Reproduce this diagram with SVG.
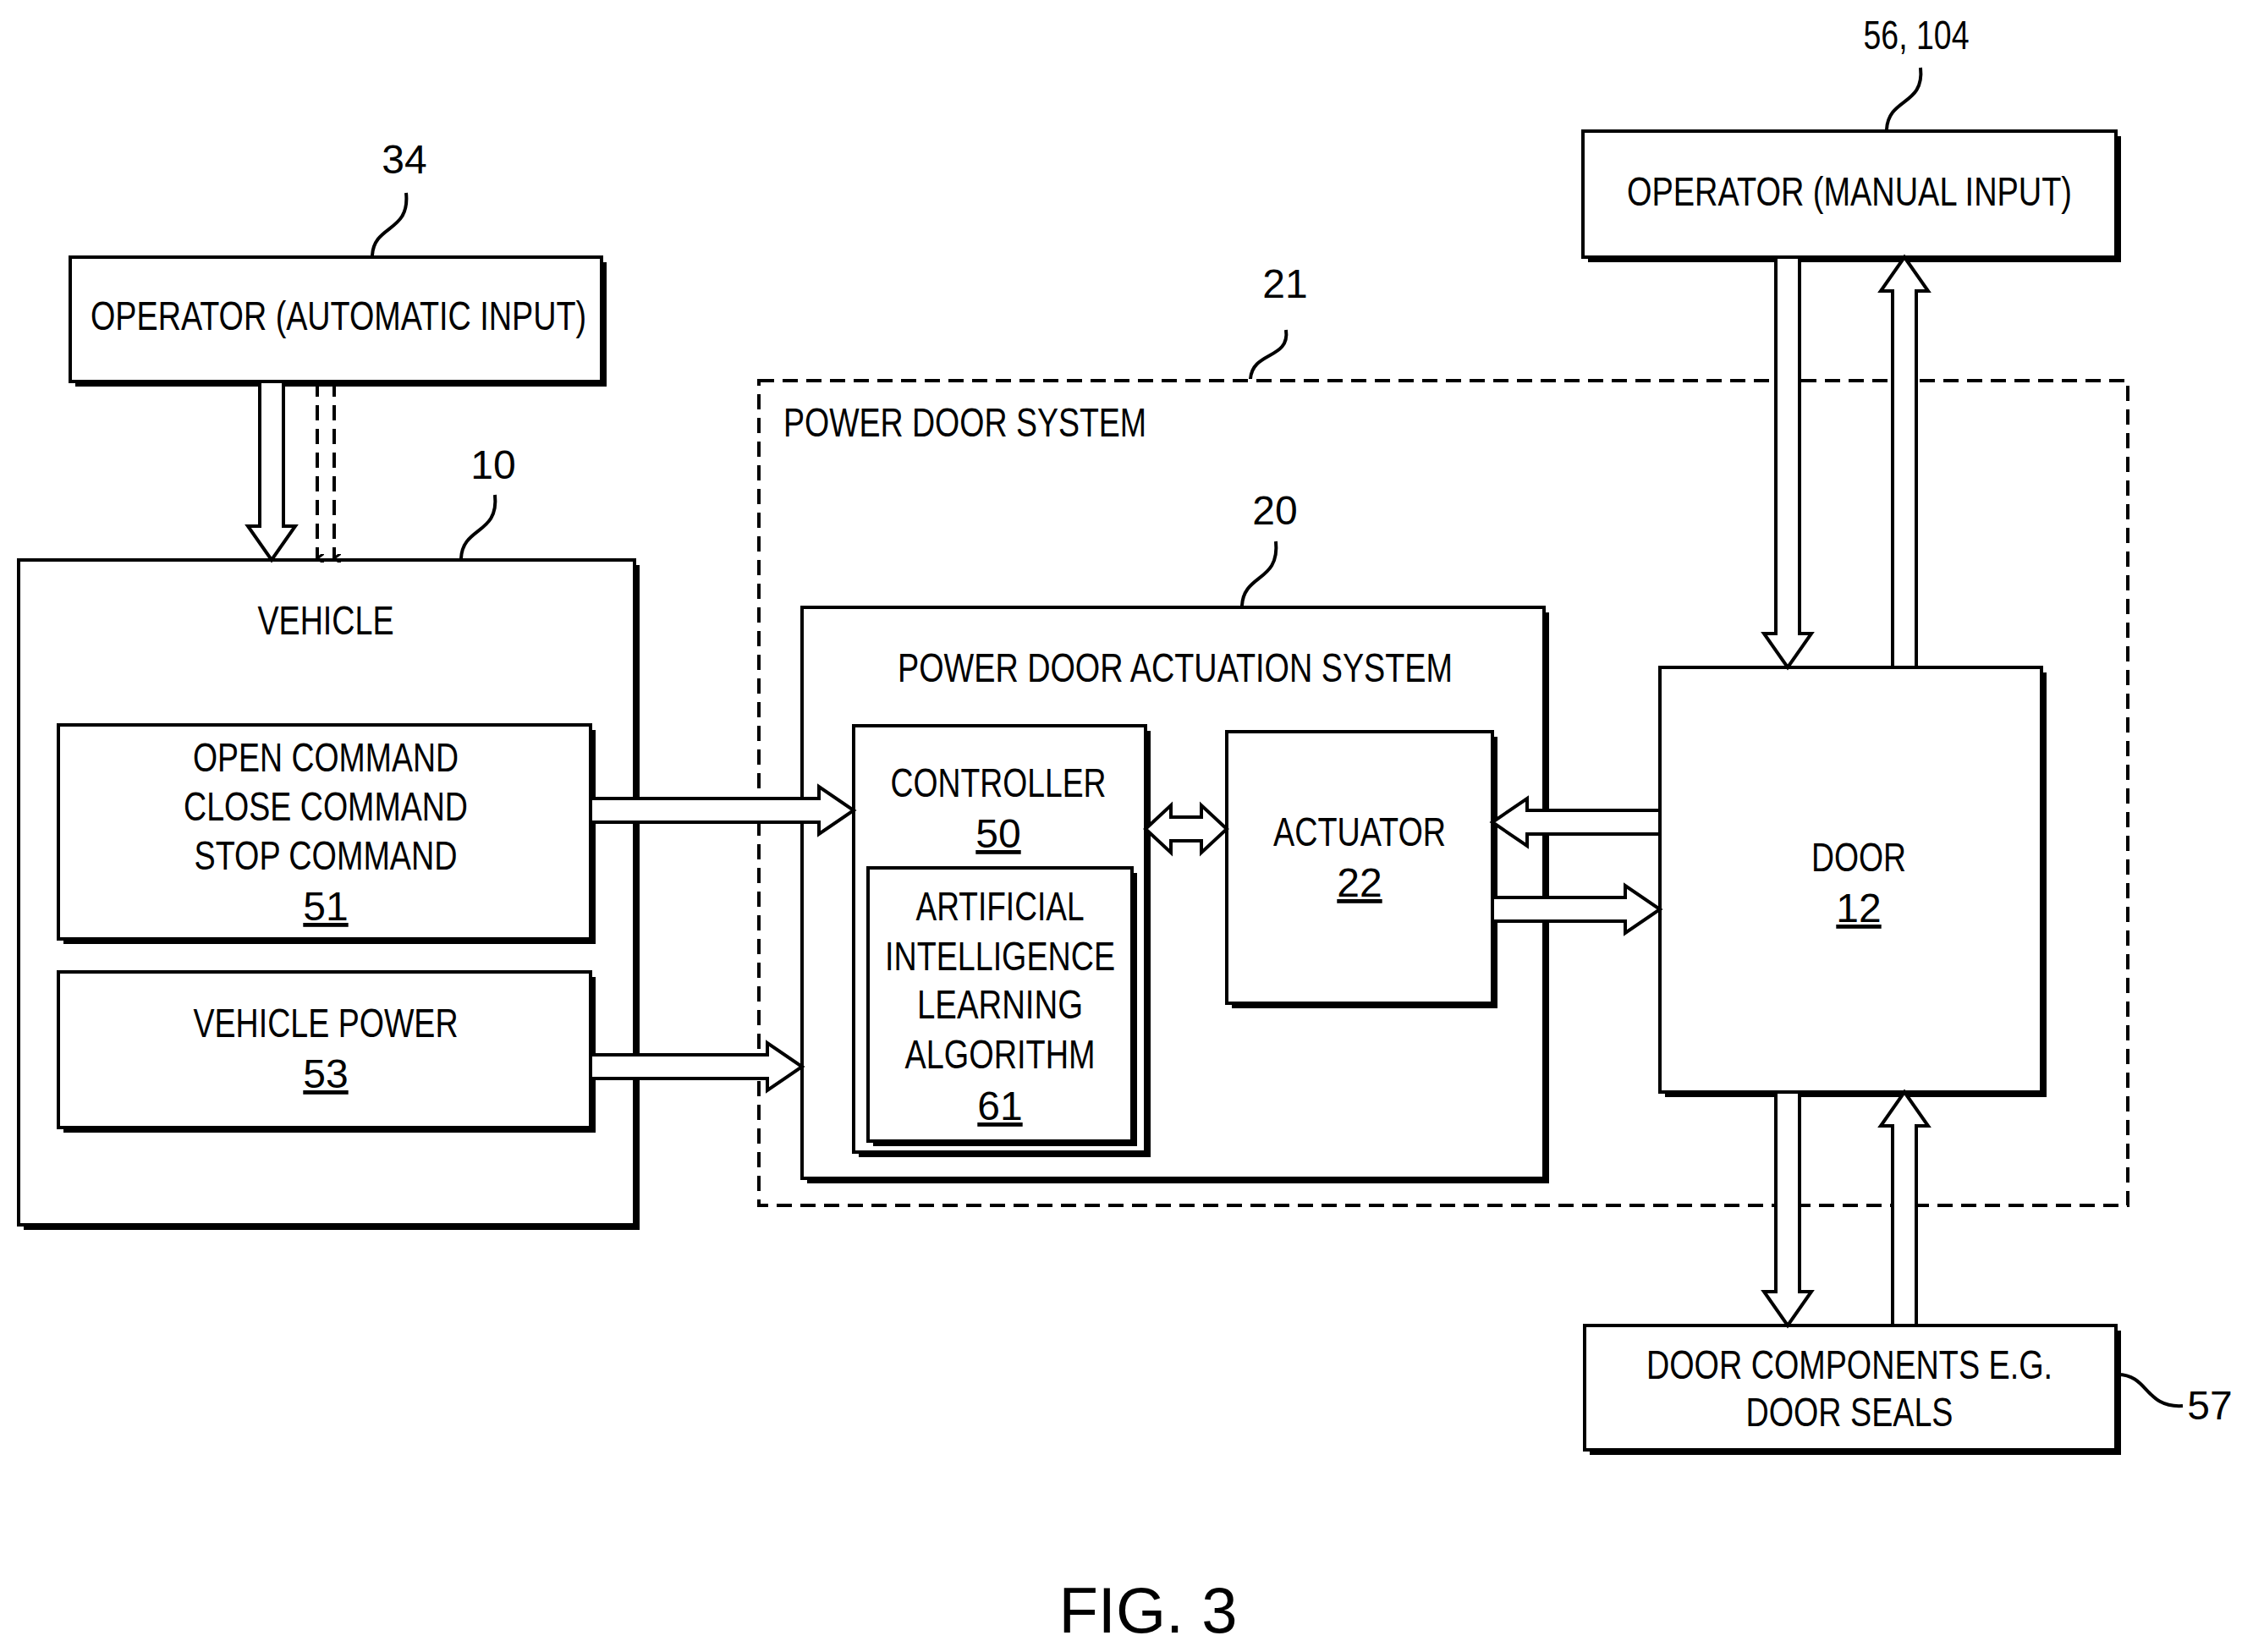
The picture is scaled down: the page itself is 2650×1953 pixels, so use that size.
<svg xmlns="http://www.w3.org/2000/svg" width="2650" height="1953" viewBox="0 0 2650 1953">
<style>
.b{fill:#fff;stroke:#000;stroke-width:4}
.s{fill:#000}
.a{fill:#fff;stroke:#000;stroke-width:4;stroke-linejoin:miter}
.n{font-family:"Liberation Sans",Arial,sans-serif;font-size:48px;text-anchor:middle}
.w{font-family:"Liberation Sans",Arial,sans-serif;font-size:48px;text-anchor:middle}
.l{fill:none;stroke:#000;stroke-width:4}
.d{fill:none;stroke:#000;stroke-width:4;stroke-dasharray:18 10}
</style>
<defs>
<marker id="ah" markerWidth="10" markerHeight="10" refX="5" refY="8" orient="auto" markerUnits="userSpaceOnUse"><path d="M-1 0 L5 8 L11 0" fill="none" stroke="#000" stroke-width="3"/></marker>
</defs>
<g id="system21">
<rect x="897" y="450" width="1618" height="975" class="d"/>
<text x="926" y="516" class="n" style="text-anchor:start" textLength="429" lengthAdjust="spacingAndGlyphs">POWER DOOR SYSTEM</text>
<text x="1519" y="352" class="n">21</text>
<path d="M1478 448 C1480 415 1525 425 1520 390" class="l"/>
</g>
<g id="op-auto">
<rect x="89" y="310" width="628" height="147" class="s"/>
<rect x="83" y="304" width="628" height="147" class="b"/>
<text x="400" y="390" class="n" textLength="586" lengthAdjust="spacingAndGlyphs">OPERATOR (AUTOMATIC INPUT)</text>
<text x="478" y="205" class="n">34</text>
<path d="M440 302 C442 265 485 275 480 228" class="l"/>
</g>
<g id="vehicle">
<rect x="28" y="668" width="728" height="786" class="s"/>
<rect x="22" y="662" width="728" height="786" class="b"/>
<text x="385" y="750" class="n" textLength="161" lengthAdjust="spacingAndGlyphs">VEHICLE</text>
<text x="583" y="566" class="n">10</text>
<path d="M545 660 C547 622 590 632 585 585" class="l"/>
</g>
<g id="commands">
<rect x="75" y="863" width="629" height="253" class="s"/>
<rect x="69" y="857" width="629" height="253" class="b"/>
<text x="385" y="912" class="n" textLength="314" lengthAdjust="spacingAndGlyphs">OPEN COMMAND</text>
<text x="385" y="970" class="n" textLength="336" lengthAdjust="spacingAndGlyphs">CLOSE COMMAND</text>
<text x="385" y="1028" class="n" textLength="311" lengthAdjust="spacingAndGlyphs">STOP COMMAND</text>
<text x="385" y="1088" class="n" text-decoration="underline">51</text>
</g>
<g id="vpower">
<rect x="75" y="1155" width="629" height="184" class="s"/>
<rect x="69" y="1149" width="629" height="184" class="b"/>
<text x="385" y="1226" class="n" textLength="313" lengthAdjust="spacingAndGlyphs">VEHICLE POWER</text>
<text x="385" y="1286" class="n" text-decoration="underline">53</text>
</g>
<g id="pdas">
<rect x="954" y="724" width="877" height="675" class="s"/>
<rect x="948" y="718" width="877" height="675" class="b"/>
<text x="1389" y="806" class="n" textLength="656" lengthAdjust="spacingAndGlyphs">POWER DOOR ACTUATION SYSTEM</text>
<text x="1507" y="620" class="n">20</text>
<path d="M1468 716 C1470 678 1513 688 1508 640" class="l"/>
</g>
<g id="controller">
<rect x="1015" y="864" width="345" height="504" class="s"/>
<rect x="1009" y="858" width="345" height="504" class="b"/>
<text x="1180" y="942" class="n" textLength="255" lengthAdjust="spacingAndGlyphs">CONTROLLER</text>
<text x="1180" y="1002" class="n" text-decoration="underline">50</text>
</g>
<g id="ai">
<rect x="1032" y="1032" width="312" height="323" class="s"/>
<rect x="1026" y="1026" width="312" height="323" class="b"/>
<text x="1182" y="1088" class="n" textLength="199" lengthAdjust="spacingAndGlyphs">ARTIFICIAL</text>
<text x="1182" y="1147" class="n" textLength="272" lengthAdjust="spacingAndGlyphs">INTELLIGENCE</text>
<text x="1182" y="1204" class="n" textLength="196" lengthAdjust="spacingAndGlyphs">LEARNING</text>
<text x="1182" y="1263" class="n" textLength="225" lengthAdjust="spacingAndGlyphs">ALGORITHM</text>
<text x="1182" y="1324" class="n" text-decoration="underline">61</text>
</g>
<g id="actuator">
<rect x="1456" y="871" width="314" height="321" class="s"/>
<rect x="1450" y="865" width="314" height="321" class="b"/>
<text x="1607" y="1000" class="w" textLength="204" lengthAdjust="spacingAndGlyphs">ACTUATOR</text>
<text x="1607" y="1060" class="w" text-decoration="underline">22</text>
</g>
<g id="door">
<rect x="1968" y="795" width="451" height="502" class="s"/>
<rect x="1962" y="789" width="451" height="502" class="b"/>
<text x="2197" y="1030" class="w" textLength="112" lengthAdjust="spacingAndGlyphs">DOOR</text>
<text x="2197" y="1090" class="w" text-decoration="underline">12</text>
</g>
<g id="op-manual">
<rect x="1877" y="161" width="630" height="149" class="s"/>
<rect x="1871" y="155" width="630" height="149" class="b"/>
<text x="2186" y="243" class="w" textLength="526" lengthAdjust="spacingAndGlyphs">OPERATOR (MANUAL INPUT)</text>
<text x="2265" y="58" class="w" textLength="125" lengthAdjust="spacingAndGlyphs">56, 104</text>
<path d="M2230 153 C2232 115 2275 125 2270 80" class="l"/>
</g>
<g id="components">
<rect x="1879" y="1573" width="628" height="147" class="s"/>
<rect x="1873" y="1567" width="628" height="147" class="b"/>
<text x="2186" y="1630" class="w" textLength="480" lengthAdjust="spacingAndGlyphs">DOOR COMPONENTS E.G.</text>
<text x="2186" y="1686" class="w" textLength="245" lengthAdjust="spacingAndGlyphs">DOOR SEALS</text>
<text x="2612" y="1678" class="w">57</text>
<path d="M2503 1625 C2540 1625 2535 1665 2580 1662" class="l"/>
</g>
<text x="1357" y="1930" font-family="Liberation Sans,Arial,sans-serif" font-size="76" text-anchor="middle">FIG. 3</text>
<g id="connectors">
<path class="a" d="M307 451 V622 H293 L321 662 L349 622 H335 V451 Z"/>
<line x1="375" y1="451" x2="375" y2="660" class="d" stroke-width="3" marker-end="url(#ah)"/>
<line x1="395" y1="451" x2="395" y2="660" class="d" stroke-width="3" marker-end="url(#ah)"/>
<path class="a" d="M698 944 H968 V930 L1009 958 L968 986 V972 H698 Z"/>
<path class="a" d="M698 1247 H907 V1233 L948 1261 L907 1289 V1275 H698 Z"/>
<path class="a" d="M1354 980 L1384 952 V966 H1420 V952 L1450 980 L1420 1008 V994 H1384 V1008 Z"/>
<path class="a" d="M1962 958 H1805 V944 L1764 972 L1805 1000 V986 H1962 Z"/>
<path class="a" d="M1764 1061 H1921 V1047 L1962 1075 L1921 1103 V1089 H1764 Z"/>
<path class="a" d="M2099 304 V749 H2085 L2113 789 L2141 749 H2127 V304 Z"/>
<path class="a" d="M2237 789 V344 H2223 L2251 304 L2279 344 H2265 V789 Z"/>
<path class="a" d="M2099 1291 V1527 H2085 L2113 1567 L2141 1527 H2127 V1291 Z"/>
<path class="a" d="M2237 1567 V1331 H2223 L2251 1291 L2279 1331 H2265 V1567 Z"/>
</g>
</svg>
